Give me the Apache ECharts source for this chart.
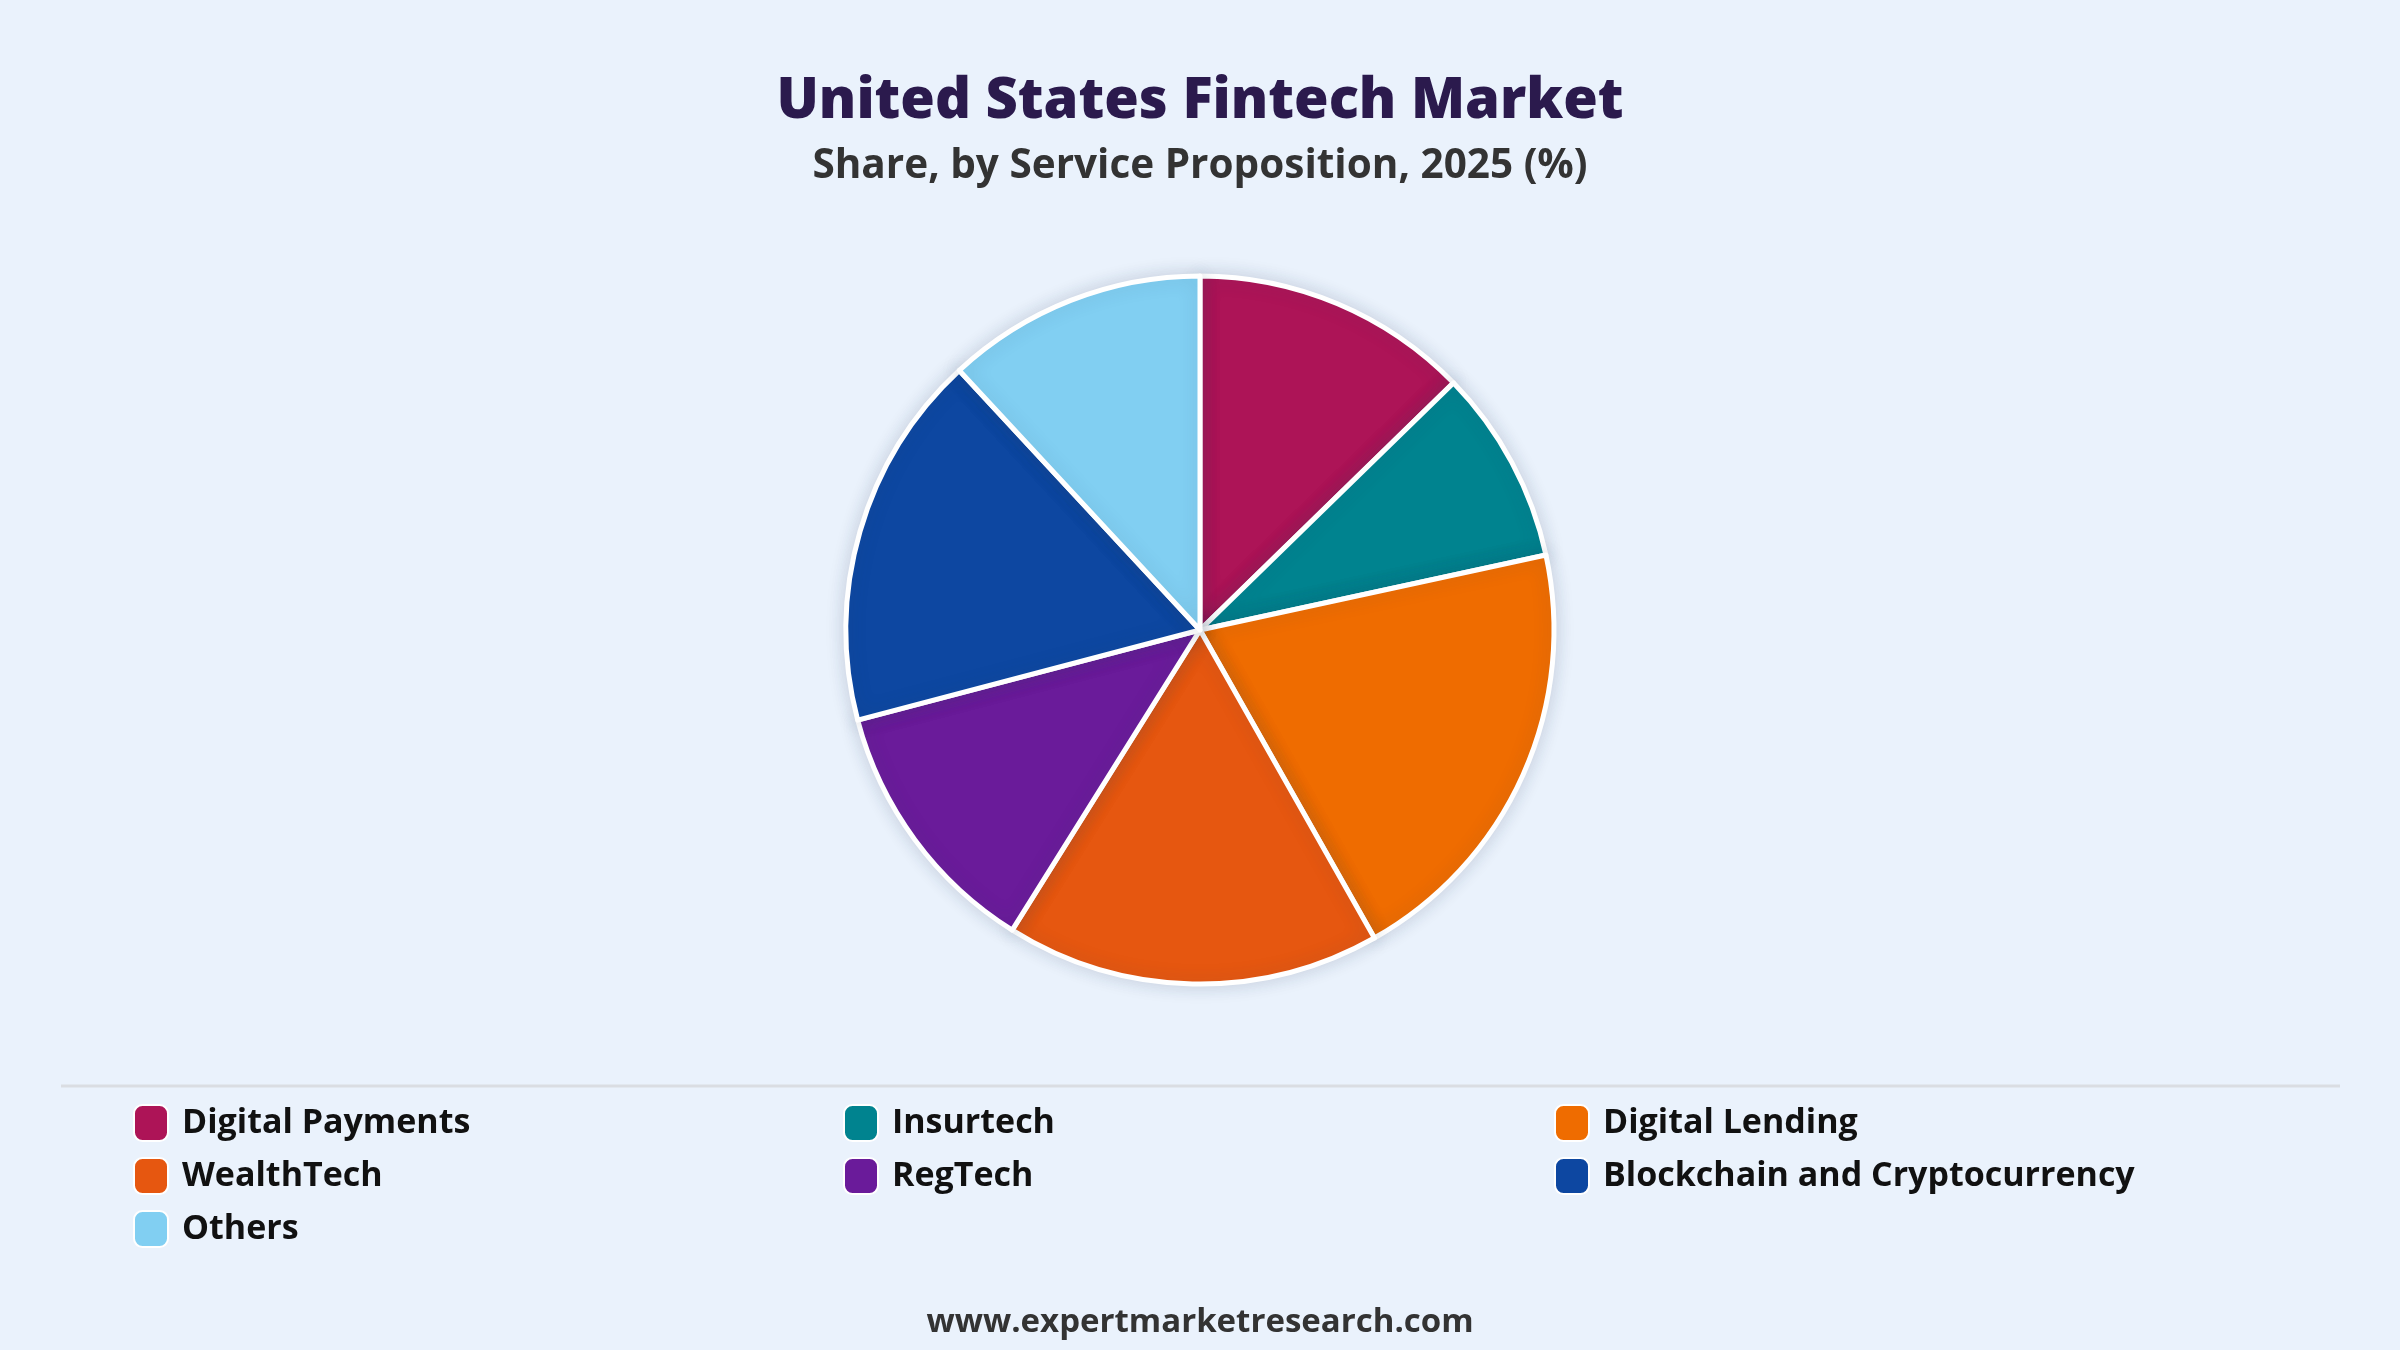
<!DOCTYPE html>
<html>
<head>
<meta charset="utf-8">
<script src="https://cdn.jsdelivr.net/npm/echarts@6/dist/echarts.min.js"></script>
<style>
html,body{margin:0;padding:0;background:#EAF2FC;}
#c{width:2400px;height:1350px;}
</style>
</head>
<body>
<div id="c"></div>
<script>
const categories = ["Digital Payments","Insurtech","Digital Lending","WealthTech","RegTech","Blockchain and Cryptocurrency","Others"];
const shares = [12.7, 8.9, 20.2, 17.1, 12.0, 17.2, 11.9];
const colors = ["#AD1457","#00838F","#EF6C00","#E65710","#6A1B9A","#0D47A1","#81CFF2"];
// legend columns (reading order of the reference grid)
const legendCol1 = ["Digital Payments","WealthTech","Others"];
const legendCol2 = ["Insurtech","RegTech"];
const legendCol3 = ["Digital Lending","Blockchain and Cryptocurrency"];

const chart = echarts.init(document.getElementById('c'));
const FONT = '"Open Sans", "Noto Sans", sans-serif';
const legendBase = {
  top: 1104, orient: 'vertical', padding: 0,
  itemWidth: 34, itemHeight: 36, itemGap: 15,
  icon: 'roundRect',
  textStyle: {fontFamily: FONT, fontSize: 34, lineHeight: 36, fontWeight: 700, color: '#111111', padding: [0,0,0,9]}
};
chart.setOption({
  backgroundColor: '#EAF2FC',
  title: [
    {text: 'United States Fintech Market', left: 'center', top: 69,
     textStyle: {fontFamily: FONT, fontSize: 56, fontWeight: 800, color: '#2B1A4D'}},
    {text: 'Share, by Service Proposition, 2025 (%)', left: 'center', top: 141,
     textStyle: {fontFamily: FONT, fontSize: 40.5, fontWeight: 700, color: '#333333'}},
    {text: 'www.expertmarketresearch.com', left: 'center', top: 1301,
     textStyle: {fontFamily: FONT, fontSize: 33, fontWeight: 700, color: '#333333'}}
  ],
  graphic: [{
    type: 'line', shape: {x1: 61, y1: 1086, x2: 2340, y2: 1086},
    style: {stroke: '#DADDE2', lineWidth: 3}
  }],
  legend: [
    Object.assign({}, legendBase, {left: 133, data: legendCol1}),
    Object.assign({}, legendBase, {left: 843, data: legendCol2}),
    Object.assign({}, legendBase, {left: 1554, data: legendCol3})
  ],
  series: [{
    type: 'pie',
    center: [1200, 630],
    radius: 354,
    startAngle: 90,
    clockwise: true,
    label: {show: false},
    labelLine: {show: false},
    emphasis: {disabled: true},
    itemStyle: {borderColor: '#ffffff', borderWidth: 5,
                shadowBlur: 18, shadowColor: 'rgba(40,60,90,0.18)'},
    data: categories.map((n, i) => ({name: n, value: shares[i], itemStyle: {color: colors[i]}}))
  }]
});
</script>
</body>
</html>
